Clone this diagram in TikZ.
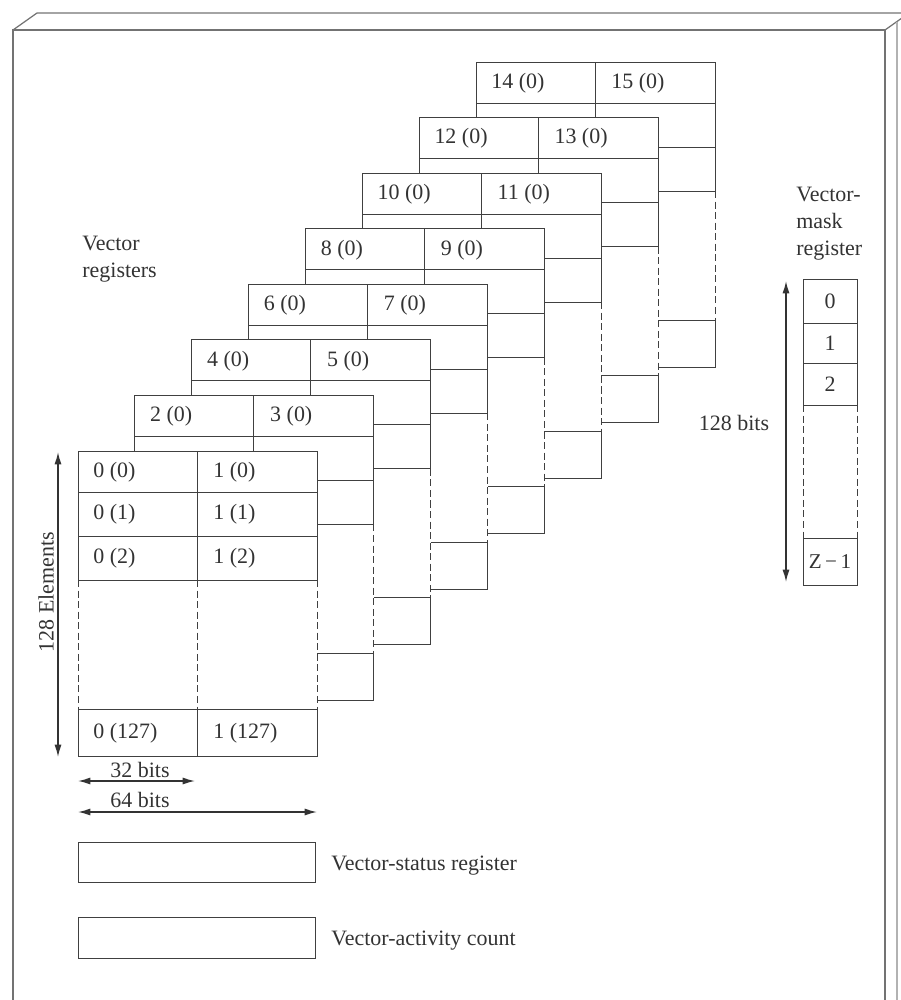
\documentclass[tikz,border=0pt]{standalone}
\usepackage{fontspec}
\setmainfont{Liberation Serif}
\usetikzlibrary{arrows.meta}
\begin{document}
\begin{tikzpicture}[x=0.02cm,y=-0.02cm,
  reg/.style={draw=black!75,line width=0.5pt},
  dsh/.style={draw=black!75,line width=0.5pt,dash pattern=on 4pt off 2pt},
  frame/.style={draw=black!55,line width=0.7pt},
  cell/.style={inner sep=0pt,anchor=west,text=black!80,font=\fontsize{12.5}{15}\selectfont},
  lbl/.style={inner sep=0pt,text=black!80,font=\fontsize{12.5}{15.3}\selectfont},
  dim/.style={draw=black!80,line width=0.8pt,{Latex[length=7pt,width=4pt]}-{Latex[length=7pt,width=4pt]}}]
\useasboundingbox (0,0) rectangle (901,1000);
% slab frame
\begin{scope}
\clip (0,0) rectangle (901,1000);
\draw[frame] (13,1000) -- (13,30) -- (885,30) -- (885,1000);
\draw[frame] (13,30) -- (37,13) -- (915,13);
\draw[frame] (885,30) -- (909,13);
\draw[draw=black!30,line width=0.6pt] (897,22) -- (897,1000);
\end{scope}
% vector registers, back to front
\foreach \k in {7,6,...,0} {
  \pgfmathsetmacro\xo{78+56.86*\k}
  \pgfmathsetmacro\yo{451-55.57*\k}
  \pgfmathtruncatemacro\ev{2*\k}
  \pgfmathtruncatemacro\od{2*\k+1}
  \begin{scope}[shift={(\xo,\yo)}]
    \fill[white] (0,0) rectangle (239,305);
    \draw[reg] (0,129) -- (0,0) -- (239,0) -- (239,129);
    \draw[reg] (0,258) -- (0,305) -- (239,305) -- (239,258);
    \draw[reg] (119,0) -- (119,129);
    \draw[reg] (119,258) -- (119,305);
    \draw[dsh] (0,129) -- (0,258);
    \draw[dsh] (119,129) -- (119,258);
    \draw[dsh] (239,129) -- (239,258);
    \foreach \r in {41,85,129,258} { \draw[reg] (0,\r) -- (239,\r); }
    \node[cell] (ra\k) at (15,21) {\ev\ (0)};
    \node[cell] (rb\k) at (135,21) {\od\ (0)};
  \end{scope}
}
% front register remaining labels
\node[cell] (c01) at (93,514) {0 (1)};
\node[cell] (c11) at (213,514) {1 (1)};
\node[cell] (c02) at (93,558) {0 (2)};
\node[cell] (c12) at (213,558) {1 (2)};
\node[cell] (c0l) at (93,733) {0 (127)};
\node[cell] (c1l) at (213,733) {1 (127)};
% labels
\node[lbl,anchor=west,align=left] (vr) at (82,259) {Vector\\registers};
% 128 elements
\coordinate (et) at (58,452);
\coordinate (eb) at (58,757);
\draw[dim] (et) -- (eb);
\node[lbl,rotate=90] (el) at (46,592) {128 Elements};
% bit widths
\coordinate (b32a) at (78,781);
\coordinate (b32b) at (195,781);
\draw[dim] (b32a) -- (b32b);
\node[lbl] (t32) at (140,770) {32 bits};
\coordinate (b64a) at (78,812);
\coordinate (b64b) at (317,812);
\draw[dim] (b64a) -- (b64b);
\node[lbl] (t64) at (140,800) {64 bits};
% status and activity
\draw[reg] (78,842) rectangle (315,882);
\node[lbl,anchor=west] (vs) at (331,866) {Vector-status register};
\draw[reg] (78,917) rectangle (315,958);
\node[lbl,anchor=west] (va) at (331,941) {Vector-activity count};
% vector mask register
\node[lbl,anchor=west,align=left] (vm) at (796,224) {Vector-\\mask\\register};
\draw[reg] (803,405) -- (803,279) -- (857,279) -- (857,405);
\draw[reg] (803,323) -- (857,323);
\draw[reg] (803,363) -- (857,363);
\draw[reg] (803,405) -- (857,405);
\draw[dsh] (803,405) -- (803,538);
\draw[dsh] (857,405) -- (857,538);
\draw[reg] (803,538) -- (803,585) -- (857,585) -- (857,538) -- cycle;
\node[lbl] (m0) at (830,301) {0};
\node[lbl] (m1) at (830,343) {1};
\node[lbl] (m2) at (830,384) {2};
\node[lbl,font=\fontsize{12}{14}\selectfont] (mz) at (830,562) {Z\,−\,1};
\coordinate (mt) at (786,281);
\coordinate (mb) at (786,582);
\draw[dim] (mt) -- (mb);
\node[lbl] (mbits) at (734,423) {128 bits};
\end{tikzpicture}
\end{document}
